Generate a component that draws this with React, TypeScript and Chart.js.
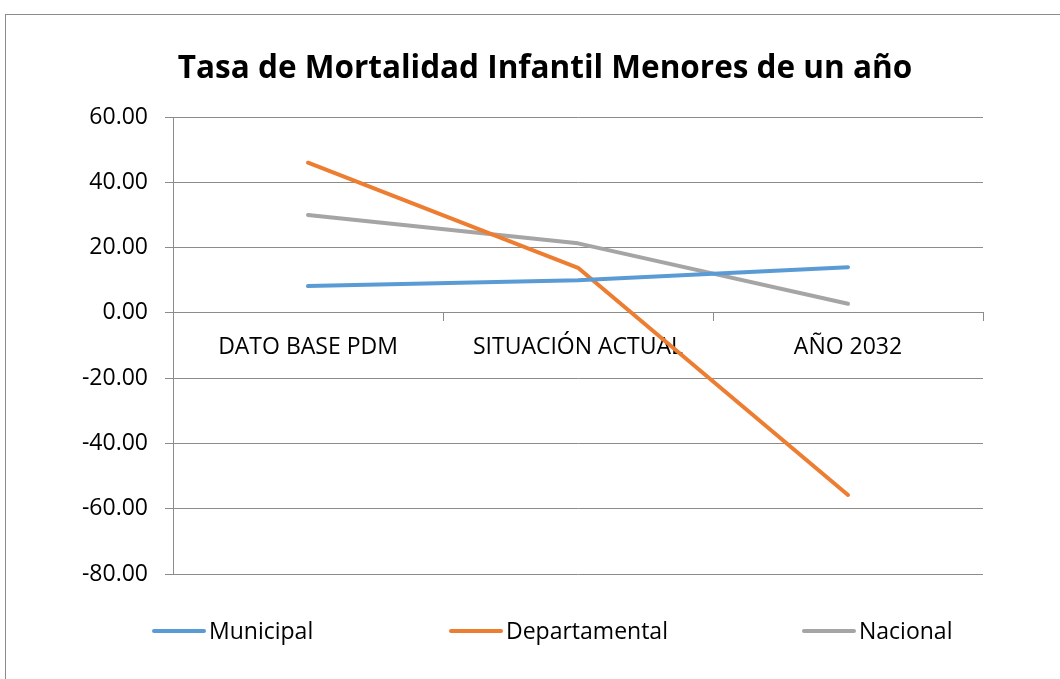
import React, { useEffect, useRef } from 'react';
import { Chart, registerables } from 'chart.js';

Chart.register(...registerables);

const TITLE = 'Tasa de Mortalidad Infantil Menores de un año';
const CATEGORIES = ['DATO BASE PDM', 'SITUACIÓN ACTUAL', 'AÑO 2032'];
const SERIES_NAMES = ['Municipal', 'Departamental', 'Nacional'];
const MUNICIPAL = [8.2, 10.0, 14.0];
const DEPARTAMENTAL = [46.0, 13.8, -55.8];
const NACIONAL = [30.0, 21.3, 2.8];
const Y_MIN = -80;
const Y_MAX = 60;
const Y_STEP = 20;

const COLORS = ['#5B9BD5', '#ED7D31', '#A5A5A5'];
const GRID = '#8c8c8c';
const FONT = '"Open Sans", "Noto Sans", sans-serif';
const LEGEND_X = [152, 449, 802];
const LEGEND_Y = 631;

const framePlugin = {
  id: 'frame',
  beforeDraw(chart: any) {
    const ctx = chart.ctx;
    ctx.save();
    ctx.fillStyle = '#ffffff';
    ctx.fillRect(0, 0, chart.width, chart.height);
    ctx.strokeStyle = GRID;
    ctx.lineWidth = 1;
    ctx.strokeRect(5.5, 14.5, 2000, 2000);
    ctx.restore();
  },
};

const titlePlugin = {
  id: 'customTitle',
  afterDraw(chart: any) {
    const ctx = chart.ctx;
    ctx.save();
    ctx.font = 'bold 31.5px ' + FONT;
    ctx.fillStyle = '#000000';
    ctx.textAlign = 'center';
    ctx.textBaseline = 'alphabetic';
    ctx.fillText(TITLE, 545, 78);
    ctx.restore();
  },
};

const legendPlugin = {
  id: 'customLegend',
  afterDraw(chart: any) {
    const ctx = chart.ctx;
    ctx.save();
    chart.data.datasets.forEach((ds: any, i: number) => {
      const x = LEGEND_X[i];
      ctx.strokeStyle = ds.borderColor;
      ctx.lineWidth = 4;
      ctx.lineCap = 'round';
      ctx.beginPath();
      ctx.moveTo(x + 2, LEGEND_Y);
      ctx.lineTo(x + 52, LEGEND_Y);
      ctx.stroke();
      ctx.font = '23px ' + FONT;
      ctx.fillStyle = '#000000';
      ctx.textAlign = 'left';
      ctx.textBaseline = 'middle';
      ctx.fillText(ds.label, x + 57, LEGEND_Y + 1);
    });
    ctx.restore();
  },
};

export default function App() {
  const ref = useRef<HTMLCanvasElement | null>(null);

  useEffect(() => {
    if (!ref.current) return;
    const series = [MUNICIPAL, DEPARTAMENTAL, NACIONAL];
    const chart = new Chart(ref.current, {
      type: 'line',
      data: {
        labels: CATEGORIES,
        datasets: series.map((d, i) => ({
          label: SERIES_NAMES[i],
          data: d,
          borderColor: COLORS[i],
          backgroundColor: COLORS[i],
          borderWidth: 4,
          borderCapStyle: 'round',
          borderJoinStyle: 'round',
          pointRadius: 0,
          pointHoverRadius: 0,
          tension: 0,
          fill: false,
        })),
      },
      options: {
        animation: false,
        responsive: false,
        maintainAspectRatio: false,
        layout: { padding: { top: 117, right: 77, bottom: 105, left: 0 } },
        plugins: {
          legend: { display: false },
          title: { display: false },
          tooltip: { enabled: false },
        },
        scales: {
          x: {
            type: 'category',
            position: { y: 0 },
            offset: true,
            grid: {
              offset: true,
              drawOnChartArea: false,
              drawTicks: true,
              tickLength: 8,
              color: GRID,
            },
            border: { display: true, color: GRID },
            ticks: {
              color: '#000000',
              font: { family: FONT, size: 23 },
              padding: 13,
              maxRotation: 0,
              autoSkip: false,
            },
          },
          y: {
            min: Y_MIN,
            max: Y_MAX,
            afterFit: (s: any) => {
              s.width = 173;
            },
            grid: { color: GRID, tickLength: 8, drawTicks: true },
            border: { display: true, color: GRID },
            ticks: {
              stepSize: Y_STEP,
              color: '#000000',
              font: { family: FONT, size: 23 },
              padding: 17,
              callback: (v: any) => Number(v).toFixed(2),
            },
          },
        },
      },
      plugins: [framePlugin, titlePlugin, legendPlugin],
    } as any);
    return () => chart.destroy();
  }, []);

  return (
    <div style={{ position: 'absolute', left: 0, top: 0, width: 1060, height: 679 }}>
      <canvas ref={ref} width={1060} height={679} style={{ display: 'block', width: 1060, height: 679 }} />
    </div>
  );
}
